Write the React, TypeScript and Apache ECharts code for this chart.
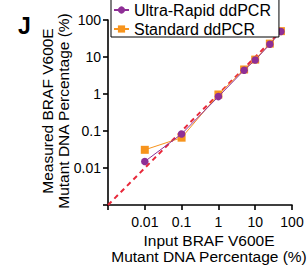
import React, { useEffect, useRef } from "react";
import * as echarts from "echarts";

const inputPct = [0.01, 0.1, 1, 5, 10, 25, 50];
const ultraRapid = [0.015, 0.083, 0.85, 4.4, 8.3, 22, 49];
const standard = [0.031, 0.066, 0.97, 4.6, 8.5, 23, 50];
const identity = [0.001, 50];
const tickLabels: Record<string, string> = {
  "0.001": "",
  "0.01": "0.01",
  "0.1": "0.1",
  "1": "1",
  "10": "10",
  "100": "100",
};

const FONT = "Liberation Sans, Arial, sans-serif";
const PURPLE = "#8E2F96";
const ORANGE = "#F7941D";
const RED = "#E8283A";

function fmt(v: number) {
  const k = String(Number(v.toPrecision(3)));
  return tickLabels[k] !== undefined ? tickLabels[k] : k;
}

export default function App() {
  const ref = useRef<HTMLDivElement>(null);
  useEffect(() => {
    const chart = echarts.init(ref.current!, undefined, { renderer: "svg" });
    chart.setOption({
      animation: false,
      grid: { left: 108, right: 15, top: 20, bottom: 62, containLabel: false },
      legend: {
        left: 111,
        top: -1,
        orient: "vertical",
        data: ["Ultra-Rapid ddPCR", "Standard ddPCR"],
        borderColor: "#000",
        borderWidth: 1,
        borderRadius: 0,
        padding: [3, 8, 0, 2],
        itemGap: 3,
        itemWidth: 15,
        itemHeight: 9,
        textStyle: { fontFamily: FONT, fontSize: 16, color: "#000" },
        backgroundColor: "#fff",
        z: 10,
      },
      xAxis: {
        type: "log",
        logBase: 10,
        min: 0.001,
        max: 100,
        axisLine: { onZero: false, lineStyle: { color: "#000", width: 1.6 } },
        axisTick: { show: true, length: 5, lineStyle: { color: "#000", width: 1.6 } },
        minorTick: { show: false },
        splitLine: { show: false },
        axisLabel: {
          fontFamily: FONT,
          fontSize: 14,
          color: "#000",
          margin: 10,
          formatter: (v: number) => fmt(v),
        },
      },
      yAxis: {
        type: "log",
        logBase: 10,
        min: 0.001,
        max: 100,
        axisLine: { show: true, onZero: false, lineStyle: { color: "#000", width: 1.6 } },
        axisTick: { show: true, length: 5, lineStyle: { color: "#000", width: 1.6 } },
        splitLine: { show: false },
        axisLabel: {
          fontFamily: FONT,
          fontSize: 14,
          color: "#000",
          margin: 7,
          formatter: (v: number) => fmt(v),
        },
      },
      graphic: [
        {
          type: "text",
          left: 18,
          top: 14,
          style: { text: "J", fontFamily: FONT, fontSize: 23, fontWeight: "bold", fill: "#000" },
        },
        {
          type: "text",
          x: 55.5,
          y: 111,
          rotation: Math.PI / 2,
          style: {
            text: "Measured BRAF V600E\nMutant DNA Percentage (%)",
            fontFamily: FONT,
            fontSize: 15.5,
            fill: "#000",
            align: "center",
            verticalAlign: "middle",
            lineHeight: 16,
          },
        },
        {
          type: "text",
          x: 209,
          y: 248,
          style: {
            text: "Input BRAF V600E\nMutant DNA Percentage (%)",
            fontFamily: FONT,
            fontSize: 15.5,
            fill: "#000",
            align: "center",
            verticalAlign: "middle",
            lineHeight: 16,
          },
        },
      ],
      series: [
        {
          name: "identity",
          type: "line",
          data: identity.map((v) => [v, v]),
          symbol: "none",
          lineStyle: { color: RED, type: [5, 4], width: 2 },
          z: 1,
        },
        {
          name: "Standard ddPCR",
          type: "line",
          data: inputPct.map((x, i) => [x, standard[i]]),
          symbol: "rect",
          symbolSize: 8,
          itemStyle: { color: ORANGE },
          lineStyle: { color: ORANGE, width: 1 },
          z: 2,
        },
        {
          name: "Ultra-Rapid ddPCR",
          type: "line",
          data: inputPct.map((x, i) => [x, ultraRapid[i]]),
          symbol: "circle",
          symbolSize: 7.5,
          itemStyle: { color: PURPLE },
          lineStyle: { color: PURPLE, width: 1 },
          z: 3,
        },
      ],
    });
    return () => chart.dispose();
  }, []);
  return (
    <div
      ref={ref}
      style={{ position: "absolute", left: 0, top: 0, width: 307, height: 267 }}
    />
  );
}
